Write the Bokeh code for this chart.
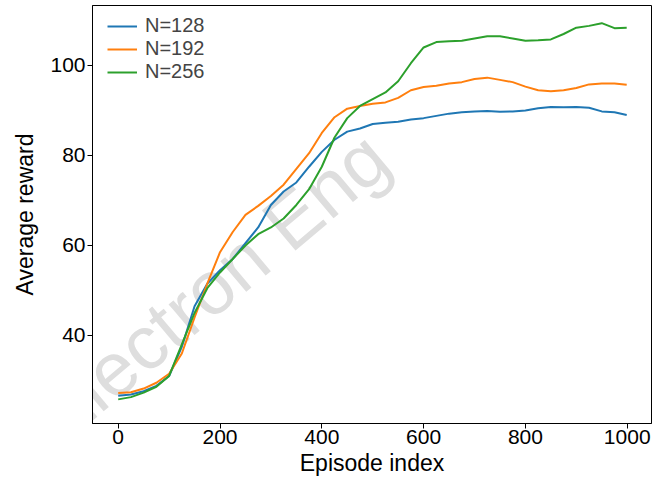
from bokeh.plotting import figure
from bokeh.models import Range1d, FixedTicker, Legend, LegendItem, Label
from bokeh.embed import file_html
from bokeh.resources import INLINE

episodes = [0, 25, 50, 75, 100, 125, 150, 175, 200, 225, 250, 275, 300, 325, 350,
            375, 400, 425, 450, 475, 500, 525, 550, 575, 600, 625, 650, 675, 700,
            725, 750, 775, 800, 825, 850, 875, 900, 925, 950, 975, 999]

reward_n128 = [26.6, 26.9, 27.6, 28.8, 31.0, 37.5, 46.5, 51.5, 54.5, 57.0, 60.5,
               64.0, 69.0, 72.0, 74.0, 77.5, 80.8, 83.5, 85.3, 86.0, 87.0, 87.3,
               87.5, 88.0, 88.3, 88.8, 89.3, 89.6, 89.8, 89.9, 89.7, 89.8, 90.0,
               90.5, 90.8, 90.7, 90.8, 90.6, 89.8, 89.6, 89.0]

reward_n192 = [27.2, 27.4, 28.2, 29.5, 31.5, 36.0, 44.0, 51.5, 58.5, 63.0, 66.8,
               68.8, 71.0, 73.5, 77.0, 80.5, 85.0, 88.5, 90.4, 91.0, 91.5, 91.8,
               92.8, 94.5, 95.2, 95.5, 96.0, 96.3, 97.0, 97.3, 96.8, 96.3, 95.3,
               94.5, 94.3, 94.5, 95.0, 95.8, 96.0, 96.0, 95.7]

reward_n256 = [25.8, 26.3, 27.3, 28.6, 31.0, 38.0, 45.0, 50.5, 54.0, 57.0, 60.0,
               62.5, 64.0, 66.0, 69.0, 72.5, 77.5, 84.0, 88.3, 91.0, 92.5, 94.0,
               96.5, 100.5, 104.0, 105.2, 105.4, 105.5, 106.0, 106.5, 106.5, 106.0,
               105.5, 105.6, 105.8, 107.0, 108.4, 108.8, 109.4, 108.3, 108.4]

series_labels = ["N=128", "N=192", "N=256"]
series_colors = ["#1f77b4", "#ff7f0e", "#2ca02c"]
x_ticks = [0, 200, 400, 600, 800, 1000]
y_ticks = [40, 60, 80, 100]
watermark_text = "ol Electron Eng"

FONT = "Liberation Sans"

p = figure(width=652, height=486, output_backend="svg", toolbar_location=None,
           x_range=Range1d(-50.5, 1047.7), y_range=Range1d(20.44, 113.33),
           min_border_left=92, min_border_right=1, min_border_top=5,
           min_border_bottom=63)

p.xgrid.visible = False
p.ygrid.visible = False
p.outline_line_color = "black"
p.outline_line_width = 1
p.background_fill_color = "white"
p.border_fill_color = "white"

wm = Label(x=-110, y=-55, x_units="screen", y_units="screen",
           text=watermark_text, angle=40, angle_units="deg",
           text_font=FONT, text_font_size="76px", text_color="#dedede",
           text_baseline="alphabetic", text_align="left",
           level="underlay")
p.add_layout(wm)

renderers = []
for ys, c in zip([reward_n128, reward_n192, reward_n256], series_colors):
    r = p.line(episodes, ys, line_color=c, line_width=2)
    renderers.append(r)

for ax in (p.xaxis[0], p.yaxis[0]):
    ax.axis_line_color = "black"
    ax.major_tick_line_color = "black"
    ax.major_tick_in = 0
    ax.major_tick_out = 5
    ax.minor_tick_line_color = None
    ax.major_label_text_font = FONT
    ax.major_label_text_font_size = "21px"
    ax.major_label_text_color = "black"
    ax.axis_label_text_font = FONT
    ax.axis_label_text_font_size = "23px"
    ax.axis_label_text_font_style = "normal"
    ax.axis_label_text_color = "black"

p.xaxis.ticker = FixedTicker(ticks=x_ticks)
p.yaxis.ticker = FixedTicker(ticks=y_ticks)
p.xaxis.axis_label = "Episode index"
p.yaxis.axis_label = "Average reward"
p.xaxis.major_label_standoff = 1
p.yaxis.major_label_standoff = 2
p.xaxis.axis_label_standoff = 3
p.yaxis.axis_label_standoff = 9

legend = Legend(items=[LegendItem(label=l, renderers=[r]) for l, r in zip(series_labels, renderers)],
                location=(15, 340), margin=0, padding=0,
                glyph_width=30, glyph_height=20, label_standoff=8, spacing=0,
                label_text_font=FONT, label_text_font_size="20px",
                border_line_alpha=0, background_fill_alpha=0)
p.add_layout(legend)

open("out.html", "w").write(file_html(p, INLINE))
